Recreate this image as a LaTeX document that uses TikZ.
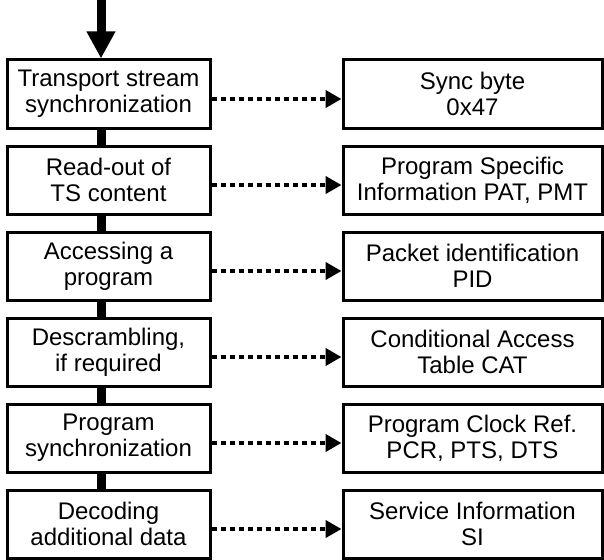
\documentclass[tikz,border=0pt]{standalone}
\usepackage{fontspec}
\setmainfont{Liberation Sans}
\usetikzlibrary{arrows.meta}

\begin{document}
\begin{tikzpicture}[x=1pt, y=1pt,
  stage/.style={draw, line width=3pt, minimum width=203pt, minimum height=68pt, inner sep=0pt, align=center, font=\fontsize{24}{26}\selectfont},
  info/.style={stage, minimum width=259pt},
  link/.style={line width=9pt},
  feedarrow/.style={-{Triangle[length=27pt, width=27pt]}, line width=9pt},
  dotarrow/.style={-{Triangle[length=16pt, width=17pt]}, line width=4.5pt, dash pattern=on 5pt off 4pt}
]
\useasboundingbox (0,0) rectangle (604,-559);
\foreach \i/\stagetext/\infotext in {
  1/{Transport stream\\synchronization}/{Sync byte\\0x47},
  2/{Read-out of\\TS content}/{Program Specific\\Information PAT, PMT},
  3/{Accessing a\\program}/{Packet identification\\PID},
  4/{Descrambling,\\if required}/{Conditional Access\\Table CAT},
  5/{Program\\synchronization}/{Program Clock Ref.\\PCR, PTS, DTS},
  6/{Decoding\\additional data}/{Service Information\\SI}} {
  \node[stage] (s\i) at (108.5,{-8-86*\i}) {\stagetext};
  \node[info] (r\i) at (472.5,{-8-86*\i}) {\infotext};
  \draw[dotarrow] ([yshift=-5pt]s\i.east) -- ([yshift=-5pt]r\i.west);
}
\coordinate (feed) at (101,0);
\draw[feedarrow] (feed) -- (feed |- s1.north);
\foreach \i in {2,...,6} {
  \pgfmathtruncatemacro\prev{\i-1}
  \draw[link] ([xshift=-7.5pt]s\prev.south) -- ([xshift=-7.5pt]s\i.north);
}
\end{tikzpicture}
\end{document}
